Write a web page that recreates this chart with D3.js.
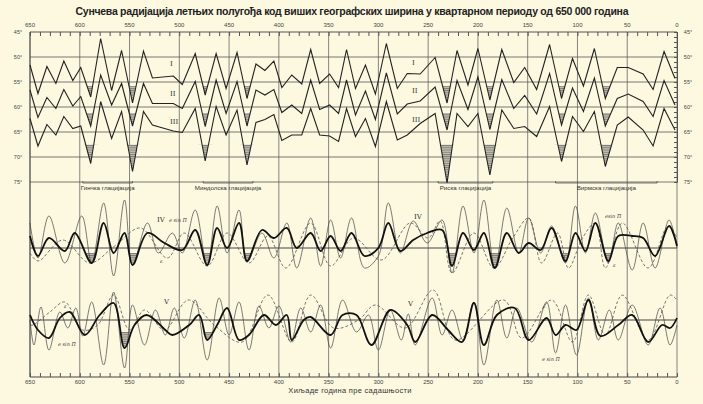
<!DOCTYPE html>
<html><head><meta charset="utf-8">
<script src="https://cdn.jsdelivr.net/npm/d3@7"></script>
<style>
body{margin:0;background:#fcf9e0;}
svg{font-family:"Liberation Sans",Arial,sans-serif;}
</style></head>
<body><svg id="chart" width="703" height="404"></svg>
<script>
// top panel: latitude-equivalent polygons (thousand years BP, degrees)
const curveI = [[650,51.6],[642,57.3],[633,51.9],[624,55.3],[616,50.8],[607,54.7],[599,52.1],[589,58.0],[579,46.3],[568,56.7],[558,48.7],[547,59.2],[536,48.8],[527,54.2],[506,53.8],[497,55.5],[484,49.3],[474,57.6],[463,49.3],[453,56.3],[442,49.1],[432,58.3],[423,51.4],[414,52.7],[405,50.8],[397,56.1],[387,53.6],[377,55.4],[368,48.5],[359,55.3],[349,53.4],[340,56.1],[332,48.5],[323,56.3],[313,51.6],[303,57.4],[292,47.3],[281,56.3],[271,53.3],[258,53.4],[243,50.1],[231,59.2],[221,48.7],[210,55.6],[200,48.3],[188,58.6],[176,48.5],[164,55.1],[153,52.1],[141,56.5],[128,47.5],[116,58.3],[105,50.3],[94,55.8],[83,48.3],[72,58.3],[60,52.1],[49,52.1],[34,53.4],[24,56.5],[13,48.9],[2,54.3]];
const curveII = [[650,56.6],[642,62.1],[633,58.1],[624,60.3],[616,56.5],[607,59.8],[599,57.9],[589,63.8],[579,53.6],[568,59.6],[558,55.3],[547,63.8],[536,55.3],[527,59.3],[506,59.3],[497,60.3],[484,54.9],[474,63.9],[463,54.6],[453,61.3],[442,54.9],[432,63.8],[423,56.6],[414,57.6],[405,56.5],[397,61.1],[387,59.6],[377,61.3],[368,54.6],[359,60.5],[349,59.6],[340,61.3],[332,54.6],[323,61.6],[313,56.8],[303,62.5],[292,53.2],[281,61.4],[271,59.4],[258,58.8],[243,56.0],[231,64.6],[221,54.7],[210,60.5],[200,54.0],[188,64.5],[176,54.5],[164,60.3],[153,57.7],[141,61.4],[128,53.3],[116,63.6],[105,56.2],[94,60.9],[83,54.2],[72,63.8],[60,58.3],[49,57.4],[34,58.9],[24,61.9],[13,54.7],[2,59.6]];
const curveIII = [[650,62.3],[642,67.8],[633,63.5],[624,65.6],[616,61.9],[607,64.3],[599,63.8],[589,71.3],[579,58.9],[568,66.3],[558,60.9],[547,72.9],[536,60.9],[527,63.6],[506,64.8],[497,65.1],[484,60.3],[474,70.8],[463,59.9],[453,65.6],[442,60.6],[432,71.6],[423,63.1],[414,62.5],[405,61.5],[397,66.7],[387,65.6],[377,65.6],[368,60.3],[359,65.6],[349,65.8],[340,66.9],[332,60.3],[323,65.9],[313,62.3],[303,67.9],[292,58.9],[281,66.6],[271,65.6],[258,63.3],[243,61.3],[231,75.2],[221,61.3],[210,63.9],[200,61.3],[188,73.6],[176,60.6],[164,64.3],[153,63.9],[141,65.9],[128,59.9],[116,70.9],[105,61.9],[94,64.9],[83,60.9],[72,71.9],[60,63.6],[49,62.0],[34,64.6],[24,67.8],[13,60.3],[2,64.6]];
const hatchLevels = [55.8, 61.2, 67.5];
const glacialMinima = [589, 547, 474, 432, 231, 188, 116, 72];

// panel IV
const ivThin = [[650,25],[642,-10],[631,32],[615,-15],[598,32],[588,-15],[576,45],[566,-28],[555,48],[547,-17],[532,25],[521,-5],[507,15],[497,-5],[484,38],[472,-18],[462,42],[452,-5],[440,38],[432,-14],[417,15],[405,-10],[392,25],[382,-20],[368,30],[358,-18],[348,28],[338,-10],[327,30],[314,-20],[300,-8],[290,45],[278,-5],[265,27],[251,5],[236,28],[226,-25],[215,42],[204,-5],[194,48],[183,-20],[171,40],[159,-5],[149,30],[137,-5],[126,22],[112,-15],[102,42],[92,-5],[82,35],[69,-15],[59,25],[45,-22],[34,25],[22,-20],[8,28],[0,0]];
const ivThick = [[650,12],[642,-8],[631,10],[615,-3],[605,15],[588,-15],[576,25],[566,-5],[555,15],[547,-17],[532,15],[515,5],[497,-2],[484,18],[472,-17],[462,20],[452,0],[440,25],[432,-13],[417,18],[405,10],[392,20],[382,0],[368,15],[358,-3],[348,12],[338,-3],[327,15],[314,-8],[300,0],[290,25],[278,-3],[265,8],[251,15],[236,18],[226,-18],[215,15],[204,-2],[194,15],[183,-20],[171,15],[159,-5],[149,5],[137,-2],[126,20],[112,-13],[102,15],[92,-3],[82,25],[69,-13],[59,12],[45,12],[34,10],[22,-8],[8,22],[0,2]];
const ivDash = [[650,-5],[642,-13],[617,8],[590,-15],[565,2],[539,20],[512,-10],[495,15],[472,-18],[452,15],[430,-15],[411,12],[393,-20],[368,25],[348,-18],[325,10],[297,-12],[268,25],[250,10],[238,27],[226,-25],[204,15],[184,-20],[165,10],[149,30],[136,-15],[120,15],[109,-20],[95,10],[82,25],[72,-20],[55,25],[29,-20],[9,22],[0,10]];
const ivGlacial = [588, 547, 472, 432, 226, 183, 112, 69];

// panel V
const vThin = [[650,0],[646,-25],[639,13],[631,-30],[620,8],[612,-8],[604,12],[597,-16],[588,18],[576,-45],[566,28],[555,-48],[547,15],[535,-25],[524,10],[514,-15],[505,12],[495,-18],[484,20],[472,-40],[460,22],[450,-15],[440,18],[430,-30],[420,14],[410,-8],[400,14],[388,-22],[378,12],[368,-12],[358,15],[348,-28],[336,20],[322,-12],[310,5],[300,-30],[288,10],[277,-20],[270,6],[263,-25],[246,22],[236,-15],[226,10],[215,-20],[204,18],[194,-45],[181,20],[171,-18],[161,12],[146,-22],[131,18],[122,-33],[112,15],[101,-35],[89,22],[79,-20],[68,10],[59,-20],[45,15],[29,-25],[17,12],[7,-25],[0,-5]];
const vThick = [[650,5],[642,-10],[631,-18],[620,2],[610,8],[595,-15],[580,5],[566,17],[555,-28],[545,-5],[533,5],[514,-10],[507,-15],[490,-5],[480,5],[472,-20],[462,-5],[452,12],[440,-20],[430,-15],[415,5],[403,-5],[392,5],[387,-20],[375,0],[368,3],[348,-15],[336,5],[322,5],[307,-25],[288,10],[271,-5],[263,-22],[246,5],[230,-10],[216,-22],[204,17],[194,-25],[181,5],[163,12],[149,-20],[131,2],[122,-15],[112,-5],[101,-10],[89,20],[77,-16],[59,-5],[45,5],[29,-22],[15,-5],[7,-8],[0,2]];
const vDash = [[650,-5],[647,-5],[630,8],[615,18],[597,-10],[582,-5],[566,25],[550,-10],[535,10],[515,-10],[491,20],[465,-5],[437,-22],[411,25],[387,-22],[368,25],[345,-8],[320,0],[303,15],[273,-8],[245,30],[223,-20],[174,20],[156,-18],[126,20],[105,-22],[89,25],[72,-15],[55,25],[29,-20],[7,25],[0,20]];
const vGlacial = [555, 472, 101];

const timeTicks = d3.range(650, -1, -50);
const degTicks = [45,50,55,60,65,70,75];
const glaciations = [
  {name:"Гинчка глацијација", from:597, to:547},
  {name:"Миндолска глацијација", from:476, to:426},
  {name:"Риска глацијација", from:240, to:185},
  {name:"Вирмска глацијација", from:122, to:20}
];

const svg = d3.select("#chart");
const x = d3.scaleLinear().domain([650,0]).range([30,677]);
const yTop = d3.scaleLinear().domain([45,75]).range([32,182]);
const yIV = d3.scaleLinear().domain([-50,50]).range([298,198]);
const yV = d3.scaleLinear().domain([-50,50]).range([370,270]);
const frameTop = 32, frameBottom = 377;

const defs = svg.append("defs");
const pat = defs.append("pattern").attr("id","hatch").attr("patternUnits","userSpaceOnUse")
  .attr("width",4).attr("height",2.2);
pat.append("rect").attr("width",4).attr("height",2.2).attr("fill","#c4c0b0");
pat.append("line").attr("x1",0).attr("x2",4).attr("y1",0.5).attr("y2",0.5).attr("stroke","#555").attr("stroke-width",0.7);

svg.append("text").attr("x",352).attr("y",15).attr("text-anchor","middle")
  .attr("font-size",10.5).attr("font-weight","bold").attr("fill","#222")
  .attr("textLength",553).attr("lengthAdjust","spacing")
  .text("Сунчева радијација летњих полугођа код виших географских ширина у квартарном периоду од 650 000 година");

// grid
svg.append("g").selectAll("line").data(timeTicks).join("line")
  .attr("x1",d=>x(d)).attr("x2",d=>x(d)).attr("y1",frameTop).attr("y2",frameBottom)
  .attr("stroke","#666").attr("stroke-width",0.8);
svg.append("g").selectAll("line").data(degTicks).join("line")
  .attr("x1",x(650)).attr("x2",x(0)).attr("y1",d=>yTop(d)).attr("y2",d=>yTop(d))
  .attr("stroke","#555").attr("stroke-width",d=>d===45?1:0.8);
[yIV(0), yV(0)].forEach(y0 => svg.append("line").attr("x1",x(650)).attr("x2",x(0))
  .attr("y1",y0).attr("y2",y0).attr("stroke","#444").attr("stroke-width",1));
svg.append("line").attr("x1",x(650)).attr("x2",x(0)).attr("y1",frameBottom).attr("y2",frameBottom).attr("stroke","#444");

// axes
const minor = d3.range(650, -1, -10);
svg.append("g").attr("transform",`translate(0,${frameTop})`)
  .call(d3.axisTop(x).tickValues(minor).tickSize(-4).tickFormat(""))
  .call(g=>g.select(".domain").remove()).selectAll("line").attr("stroke","#555");
svg.append("g").attr("transform",`translate(0,${frameBottom})`)
  .call(d3.axisBottom(x).tickValues(minor).tickSize(-4).tickFormat(""))
  .call(g=>g.select(".domain").remove()).selectAll("line").attr("stroke","#555");
svg.append("g").selectAll("text").data(timeTicks).join("text")
  .attr("x",d=>x(d)).attr("y",frameTop-5).attr("text-anchor","middle").attr("font-size",6).attr("fill","#444").text(d=>d);
svg.append("g").selectAll("text").data(timeTicks).join("text")
  .attr("x",d=>x(d)).attr("y",frameBottom+7).attr("text-anchor","middle").attr("font-size",6).attr("fill","#444").text(d=>d);
svg.append("g").attr("transform",`translate(${x(0)},0)`)
  .call(d3.axisLeft(yTop).tickValues(d3.range(45,76,1)).tickSize(3).tickFormat(""))
  .call(g=>g.select(".domain").attr("stroke","#555")).selectAll("line").attr("stroke","#555");
svg.append("g").selectAll("text").data(degTicks).join("text")
  .attr("x",18).attr("y",d=>yTop(d)+2).attr("text-anchor","middle").attr("font-size",5.5).attr("fill","#444").text(d=>d+"°");
svg.append("g").selectAll("text").data(degTicks).join("text")
  .attr("x",688).attr("y",d=>yTop(d)+2).attr("text-anchor","middle").attr("font-size",5.5).attr("fill","#444").text(d=>d+"°");
svg.append("text").attr("x",350).attr("y",393).attr("text-anchor","middle").attr("font-size",7.5)
  .attr("fill","#333").attr("letter-spacing",0.3).text("Хиљаде година пре садашњости");
svg.append("line").attr("x1",x(650)).attr("x2",x(650)).attr("y1",frameTop).attr("y2",frameBottom).attr("stroke","#555");

// clip made of narrow windows around glacial minima, below a level
function windowClip(id, times, yLevel, halfWidth){
  defs.append("clipPath").attr("id",id).selectAll("rect").data(times).join("rect")
    .attr("x",d=>x(d+halfWidth)).attr("width",d=>x(d-halfWidth)-x(d+halfWidth))
    .attr("y",yLevel).attr("height",120);
}

// top polygons with hatched glaciation minima
const lineTop = d3.line().x(d=>x(d[0])).y(d=>yTop(d[1]));
[curveI, curveII, curveIII].forEach((c,i)=>{
  const lvl = hatchLevels[i];
  windowClip("clipT"+i, glacialMinima, yTop(lvl), 7);
  svg.append("path").datum(c).attr("clip-path",`url(#clipT${i})`).attr("fill","url(#hatch)")
    .attr("d", d3.area().x(d=>x(d[0])).y0(yTop(lvl)).y1(d=>yTop(d[1])));
  svg.append("path").datum(c).attr("d",lineTop).attr("fill","none").attr("stroke","#222").attr("stroke-width",1.1);
});
const roman = ["I","II","III"];
[[170,66],[170,96],[170,124]].forEach((p,i)=>svg.append("text").attr("x",p[0]).attr("y",p[1])
  .attr("font-family","DejaVu Serif,serif").attr("font-size",7).attr("fill","#333").text(roman[i]));
[[412,65],[412,93],[412,122]].forEach((p,i)=>svg.append("text").attr("x",p[0]).attr("y",p[1])
  .attr("font-family","DejaVu Serif,serif").attr("font-size",7).attr("fill","#333").text(roman[i]));

// glaciation brackets
glaciations.forEach(g=>{
  const x0=x(g.from), x1=x(g.to), yb=183;
  svg.append("path").attr("d",`M${x0},${yb-2}V${yb}H${x1}V${yb-2}`).attr("fill","none").attr("stroke","#444").attr("stroke-width",0.7);
  svg.append("text").attr("x",(x0+x1)/2).attr("y",yb+7).attr("text-anchor","middle")
    .attr("font-size",6.2).attr("fill","#333").text(g.name);
});

// lower panels
const smooth = d3.curveCatmullRom.alpha(0.5);
function panel(y, thin, thick, dash, hatchAt, glacial){
  const ln = d3.line().curve(smooth).x(d=>x(d[0])).y(d=>y(d[1]));
  const id = "clipL"+Math.round(y(0));
  windowClip(id, glacial, y(hatchAt), 6);
  svg.append("path").datum(thick).attr("clip-path",`url(#${id})`).attr("fill","url(#hatch)")
    .attr("d", d3.area().curve(smooth).x(d=>x(d[0])).y0(y(hatchAt)).y1(d=>y(d[1])));
  svg.append("path").datum(dash).attr("d",ln).attr("fill","none").attr("stroke","#555").attr("stroke-width",0.8).attr("stroke-dasharray","3,2");
  svg.append("path").datum(thin).attr("d",ln).attr("fill","none").attr("stroke","#444").attr("stroke-width",0.7);
  svg.append("path").datum(thick).attr("d",ln).attr("fill","none").attr("stroke","#111").attr("stroke-width",1.8);
}
panel(yIV, ivThin, ivThick, ivDash, -5, ivGlacial);
panel(yV, vThin, vThick, vDash, -12, vGlacial);

const lab = (t,xx,yy,fs,it)=>svg.append("text").attr("x",xx).attr("y",yy).attr("font-size",fs)
  .attr("font-family","DejaVu Serif,serif").attr("font-style",it?"italic":"normal").attr("fill","#333").text(t);
lab("IV",157,222,7); lab("e sin Π",169,222,5,true); lab("ε",160,263,5,true);
lab("IV",414,219,7); lab("esin Π",605,218,5,true); lab("ε",613,267,5,true);
lab("V",164,304,7); lab("ε",64,308,5,true); lab("e sin Π",58,346,5,true);
lab("V",408,306,7); lab("ε",543,308,5,true); lab("e sin Π",542,361,5,true);
</script></body></html>
